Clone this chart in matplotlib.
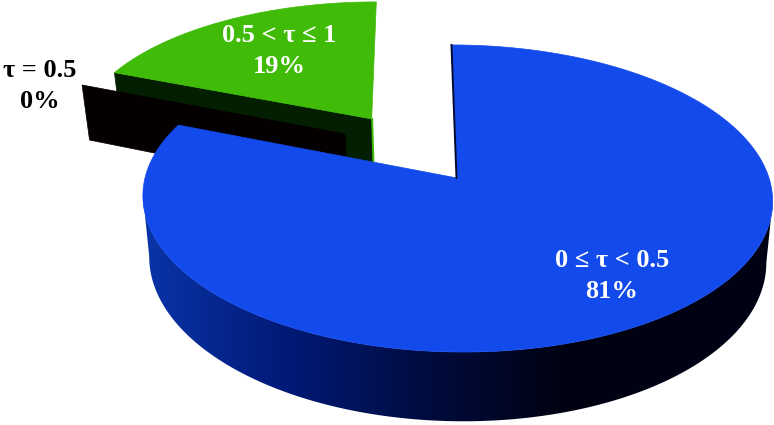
#! python3

import numpy as np
import matplotlib.pyplot as plt
from matplotlib.patches import Polygon
from matplotlib.colors import LinearSegmentedColormap

# data
categories = ["0 \u2264 \u03c4 < 0.5", "\u03c4 = 0.5", "0.5 < \u03c4 \u2264 1"]
shares = [81, 0, 19]

# style
top_colors = ["#134aeb", "#050000", "#40bc08"]
wall_color_green = "#031e00"
wall_color_zero = "#050000"
label_colors = ["white", "black", "white"]
label_pos = [(612, 276), (40, 86), (279, 51)]
wall_cmap = LinearSegmentedColormap.from_list(
    "wall", ["#0a34a8", "#011a78", "#000c40", "#000212", "#000214"])

cx, cy = 457, 178
Rx, Ry = 312, 150.8
persp, skew = 0.1335, -5.7
depth = 60
shrink = 0.02


def project(u, v, z=0.0):
    scale = 1 / (1 + persp * v)
    x = (Rx * u + skew * v) * scale
    y = Ry * v * scale
    x = x * (1 - shrink * z)
    return cx + x, cy - y + depth * z * scale


def direction(turn):
    # turn in degrees, clockwise from the top
    t = np.radians(turn)
    return np.sin(t), np.cos(t)


fig = plt.figure(figsize=(7.74, 4.25), dpi=100)
ax = fig.add_axes([0, 0, 1, 1])

bounds = np.cumsum([0] + shares) / sum(shares) * 360

# green slice, exploded along its middle
a0, a1 = bounds[2], bounds[3]
du, dv = direction((a0 + a1) / 2)
du, dv = du * 0.5, dv * 0.5
tt = np.linspace(a0, a1, 80)
su, sv = direction(tt)
su, sv = su * 0.985, sv * 0.97
xa, ya = project(du, dv)
xa2, ya2 = project(du, dv, 1)
xl, yl = project(su[0] + du, sv[0] + dv)
xl2, yl2 = project(su[0] + du, sv[0] + dv, 1)
ax.fill([xa, xl, xl2, xa2], [ya, yl, yl2, ya2], color=wall_color_green, lw=0.5, zorder=1)
xo, yo = project(su + du, sv + dv)
ax.fill(np.r_[xa, xo], np.r_[ya, yo], color=top_colors[2], lw=0.5, zorder=2)
ax.plot([xa + 0.5, xa2 + 0.5], [ya, ya2], color=top_colors[2], lw=1.4, zorder=2)

# zero slice only shows its cut face
zu, zv = direction(bounds[1])
oz, ez = 309.6, 0.477
du, dv = direction(oz)
du, dv = du * ez, dv * ez
xa, ya = project(du, dv)
xa2, ya2 = project(du, dv, 1)
xl, yl = project(zu + du, zv + dv)
xl2, yl2 = project(zu + du, zv + dv, 1)
ax.fill([xa, xl, xl2, xa2], [ya, yl, yl2, ya2], color=wall_color_zero, lw=0.5, zorder=3)

# blue slice, wall is a gradient image clipped to the side outline
tt = np.linspace(bounds[0], bounds[1], 500)
su, sv = direction(tt)
xo, yo = project(su, sv)
xb, yb = project(su, sv, 1)
# front part runs between the rightmost and leftmost point of the top
i0, i1 = np.argmax(xo), np.argmin(xo)
outline = np.c_[np.r_[xo[i0:i1 + 1], xb[i0:i1 + 1][::-1]], np.r_[yo[i0:i1 + 1], yb[i0:i1 + 1][::-1]]]
wall = Polygon(outline, closed=True, facecolor="none", edgecolor="none")
ax.add_patch(wall)
grad = ax.imshow(np.linspace(0, 1, 256)[None, :], extent=[143, 703, 425, 0], cmap=wall_cmap,
                 aspect="auto", zorder=4)
grad.set_clip_path(wall)
# gradient stops at 703, the rest of the wall stays at its last colour
rest = ax.imshow(np.ones((1, 2)), extent=[703, 774, 425, 0], cmap=wall_cmap, vmin=0, vmax=1,
                 aspect="auto", zorder=4)
rest.set_clip_path(wall)
xa, ya = project(0, 0)
ax.fill(np.r_[xa, xo], np.r_[ya, yo], color=top_colors[0], lw=0.5, zorder=5)
ax.plot([xa - 0.5, xo[0] - 0.5], [ya, yo[0]], color="#000a30", lw=1.4, zorder=5.5)

for i in range(len(categories)):
    ax.text(label_pos[i][0], label_pos[i][1], categories[i] + "\n" + str(shares[i]) + "%",
            color=label_colors[i], family=["Liberation Serif", "DejaVu Serif"], weight="bold",
            fontsize=19, ha="center", va="center", linespacing=1.4, zorder=6)

ax.set_xlim(0, 774)
ax.set_ylim(425, 0)
ax.axis("off")

plt.savefig("out.png", dpi=100, transparent=False)
